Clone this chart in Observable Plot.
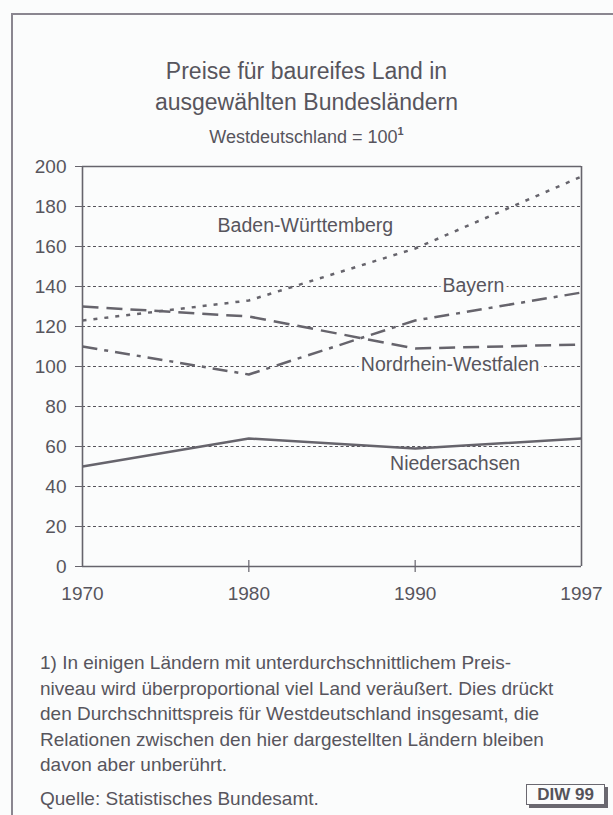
<!DOCTYPE html>
<html>
<head>
<meta charset="utf-8">
<script src="https://cdn.jsdelivr.net/npm/d3@7"></script>
<script src="https://cdn.jsdelivr.net/npm/@observablehq/plot@0.6"></script>
<style>
  html, body { margin: 0; padding: 0; background: #fbfcfc; }
  body { width: 613px; height: 815px; position: relative; overflow: hidden; font-family: "Liberation Sans", Arial, sans-serif; color: #57555d; }
  #frame { position: absolute; left: 11px; top: 13px; width: 610px; height: 820px; border-left: 2px solid #8a8690; border-top: 2px solid #8a8690; }
  .title { position: absolute; left: 0; width: 613px; text-align: center; font-size: 23px; }
  #sub { position: absolute; left: 0; width: 613px; text-align: center; font-size: 18px; top: 126px; }
  #sub sup { font-size: 11px; font-weight: bold; position: relative; top: -1px; }
  #chart { position: absolute; left: 0; top: 140px; }
  #note { position: absolute; left: 40px; top: 650px; width: 570px; font-size: 19px; line-height: 25.6px; }
  #src { position: absolute; left: 40px; top: 788px; font-size: 19px; }
  #diw { position: absolute; left: 526px; top: 784px; width: 77px; height: 19px; border: 1.5px solid #6a6870; box-shadow: 3px 3px 0 #6a6870; font-weight: bold; font-size: 17px; text-align: center; line-height: 19px; color: #55535a; background: #fbfcfc; }
</style>
</head>
<body>
<div id="frame"></div>
<div class="title" style="top:58px">Preise für baureifes Land in</div>
<div class="title" style="top:89px">ausgewählten Bundesländern</div>
<div id="sub">Westdeutschland = 100<sup>1</sup></div>
<div id="chart"></div>
<div id="note">1) In einigen Ländern mit unterdurchschnittlichem Preis-<br>niveau wird überproportional viel Land veräußert. Dies drückt<br>den Durchschnittspreis für Westdeutschland insgesamt, die<br>Relationen zwischen den hier dargestellten Ländern bleiben<br>davon aber unberührt.</div>
<div id="src">Quelle: Statistisches Bundesamt.</div>
<div id="diw">DIW 99</div>
<script>
// ---- data ----
const years = ["1970", "1980", "1990", "1997"];
const seriesNames = ["Baden-Württemberg", "Bayern", "Nordrhein-Westfalen", "Niedersachsen"];
const badenWuerttemberg = [123, 133, 159, 195];
const bayern = [110, 96, 123, 137];
const nordrheinWestfalen = [130, 125, 109, 111];
const niedersachsen = [50, 64, 59, 64];
const yTicks = [0, 20, 40, 60, 80, 100, 120, 140, 160, 180, 200];
// label anchors in data units (x = year index, y = index value)
const labelYearIndex = [1.34, 2.35, 2.21, 2.24];
const labelValue = [170.5, 140.5, 101, 51.5];

const seriesValues = [badenWuerttemberg, bayern, nordrheinWestfalen, niedersachsen];
const dashes = ["4,7", "15,7,4,7", "16,8", null];

const rows = [];
seriesValues.forEach((vals, s) => vals.forEach((v, i) => rows.push({series: seriesNames[s], i, value: v})));
const labels = seriesNames.map((n, s) => ({name: n, i: labelYearIndex[s], value: labelValue[s]}));

const ink = "#66646c";
const textInk = "#57555d";

const lineMarks = seriesNames.map((n, s) =>
  Plot.line(rows.filter(d => d.series === n), {
    x: "i", y: "value", stroke: ink, strokeWidth: 2.5,
    strokeDasharray: dashes[s] || undefined, strokeLinecap: "butt"
  })
);

const plot = Plot.plot({
  width: 613,
  height: 475,
  marginTop: 26,
  marginBottom: 49,
  marginLeft: 82,
  marginRight: 32,
  style: {background: "transparent", fontFamily: "Liberation Sans, Arial, sans-serif", color: textInk},
  x: {type: "linear", domain: [0, 3]},
  y: {domain: [0, 200]},
  marks: [
    Plot.gridY(yTicks.filter(t => t > 0 && t < 200), {stroke: "#55535a", strokeOpacity: 1, strokeWidth: 1.1, strokeDasharray: "3,2.5"}),
    Plot.text(labels, {x: "i", y: "value", text: "name", fontSize: 19.5, fill: textInk, stroke: "#fbfcfc", strokeWidth: 7}),
    ...lineMarks,
    Plot.ruleY([0, 200], {stroke: ink, strokeWidth: 1.6}),
    Plot.ruleX([0, 3], {stroke: ink, strokeWidth: 1.6}),
    Plot.axisY({ticks: yTicks, tickSize: 7, tickPadding: 9, fontSize: 19, stroke: ink, color: textInk, label: null}),
    Plot.axisX({ticks: [0, 1, 2, 3], tickFormat: i => years[i], tickSize: 0, tickPadding: 20, fontSize: 19, label: null, color: textInk}),
    Plot.ruleX([1, 2], {y1: -3, y2: 3, stroke: ink, strokeWidth: 1.2})
  ]
});
document.getElementById("chart").appendChild(plot);
</script>
</body>
</html>
